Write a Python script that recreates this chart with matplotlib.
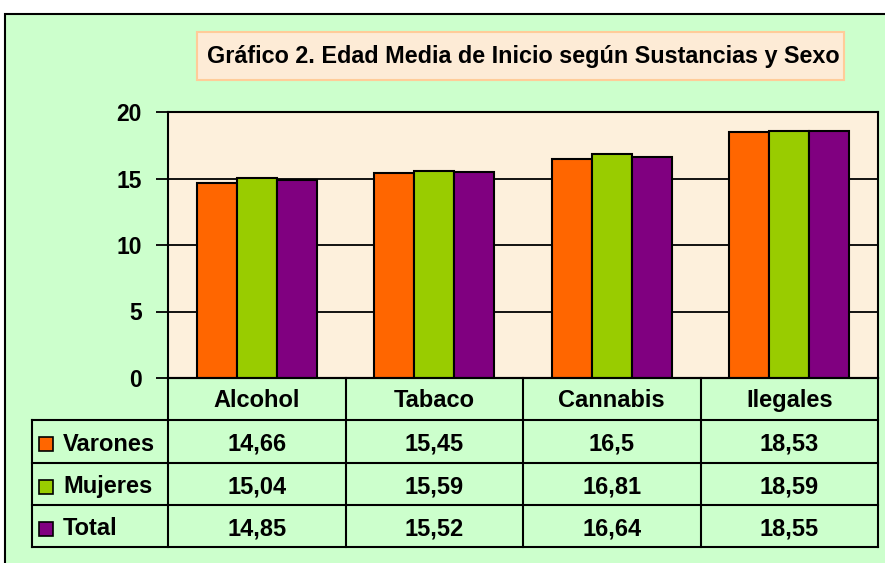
import numpy as np
import matplotlib
matplotlib.use("Agg")
import matplotlib.pyplot as plt
from matplotlib.patches import Rectangle

plt.rcParams['font.family'] = ['Liberation Sans', 'DejaVu Sans']
plt.rcParams['font.weight'] = 'bold'

# data
categorias = ["Alcohol", "Tabaco", "Cannabis", "Ilegales"]
series = ["Varones", "Mujeres", "Total"]
varones = [14.66, 15.45, 16.5, 18.53]
mujeres = [15.04, 15.59, 16.81, 18.59]
total = [14.85, 15.52, 16.64, 18.55]
etiquetas_tabla = [["14,66", "15,45", "16,5", "18,53"],
                   ["15,04", "15,59", "16,81", "18,59"],
                   ["14,85", "15,52", "16,64", "18,55"]]
colores = ["#FF6600", "#99CC00", "#800080"]
titulo = "Gráfico 2. Edad Media de Inicio según Sustancias y Sexo"

W, H = 885, 563
fig = plt.figure(figsize=(W / 100, H / 100), dpi=100)
fig.patch.set_facecolor("white")


def fx(px):
    return px / W


def fy(py):
    return 1 - py / H


# chart area background + border
fig.patches.append(Rectangle((fx(5), -0.1), 1.2, fy(14) + 0.1, transform=fig.transFigure,
                             facecolor="#CCFFCC", edgecolor="black", lw=1.5, zorder=0))

# title box
fig.patches.append(Rectangle((fx(197), fy(80)), fx(844) - fx(197), fy(32) - fy(80),
                             transform=fig.transFigure, facecolor="#FDEBD6",
                             edgecolor="#FFCC99", lw=1.5, zorder=1))
fig.text(fx(523), fy(56), titulo, ha="center", va="center", fontsize=16.8,
         fontweight="bold", color="black", zorder=2)

# main bar axes
ax = fig.add_axes([fx(168), fy(378), fx(878) - fx(168), fy(112) - fy(378)])
ax.set_zorder(5)
ax.set_facecolor("#FDF0DC")
x = np.arange(len(categorias))
w = 40 / 177.5
for i, vals in enumerate([varones, mujeres, total]):
    ax.bar(x + (i - 1) * w, vals, width=w, color=colores[i], edgecolor="black",
           linewidth=1.5, zorder=3)
ax.set_xlim(-0.5, 3.5)
ax.set_ylim(0, 20)
ax.set_yticks([0, 5, 10, 15, 20])
ax.set_yticklabels([str(v) for v in [0, 5, 10, 15, 20]], fontsize=16.5,
                   fontweight="bold")
ax.yaxis.grid(True, color="black", lw=1.3, zorder=1)
ax.set_axisbelow(True)
ax.set_xticks([])
ax.tick_params(axis="y", length=9, width=1.3, pad=10)
for s in ax.spines.values():
    s.set_linewidth(1.5)

# data table below
leg_w = (168 - 32) / 177.5
tab = fig.add_axes([fx(32), fy(547), fx(878) - fx(32), fy(378) - fy(547)])
tab.set_zorder(5)
tab.set_xlim(-0.5 - leg_w, 3.5)
tab.set_ylim(0, 4)
tab.axis("off")
lw = 1.5
# horizontal lines
tab.plot([-0.5, 3.5], [4, 4], color="black", lw=lw, clip_on=False)
for yy in [3, 2, 1, 0]:
    tab.plot([-0.5 - leg_w, 3.5], [yy, yy], color="black", lw=lw, clip_on=False)
# vertical lines
tab.plot([-0.5 - leg_w, -0.5 - leg_w], [0, 3], color="black", lw=lw, clip_on=False)
for xx in [-0.5, 0.5, 1.5, 2.5, 3.5]:
    tab.plot([xx, xx], [0, 4], color="black", lw=lw, clip_on=False)

fs = 17
for j, cat in enumerate(categorias):
    tab.text(j, 3.47, cat, ha="center", va="center", fontsize=fs, fontweight="bold")
for i, nombre in enumerate(series):
    yc = 2.5 - i - 0.07
    tab.plot([-0.5 - leg_w + 14 / 177.5], [yc], marker="s", ms=10, mfc=colores[i],
             mec="black", mew=1.2, clip_on=False)
    tab.text(-0.5 - leg_w + 31 / 177.5, yc, nombre, ha="left", va="center",
             fontsize=fs, fontweight="bold")
    for j in range(len(categorias)):
        tab.text(j, yc, etiquetas_tabla[i][j], ha="center", va="center",
                 fontsize=fs, fontweight="bold")

fig.savefig("out.png", dpi=100)
